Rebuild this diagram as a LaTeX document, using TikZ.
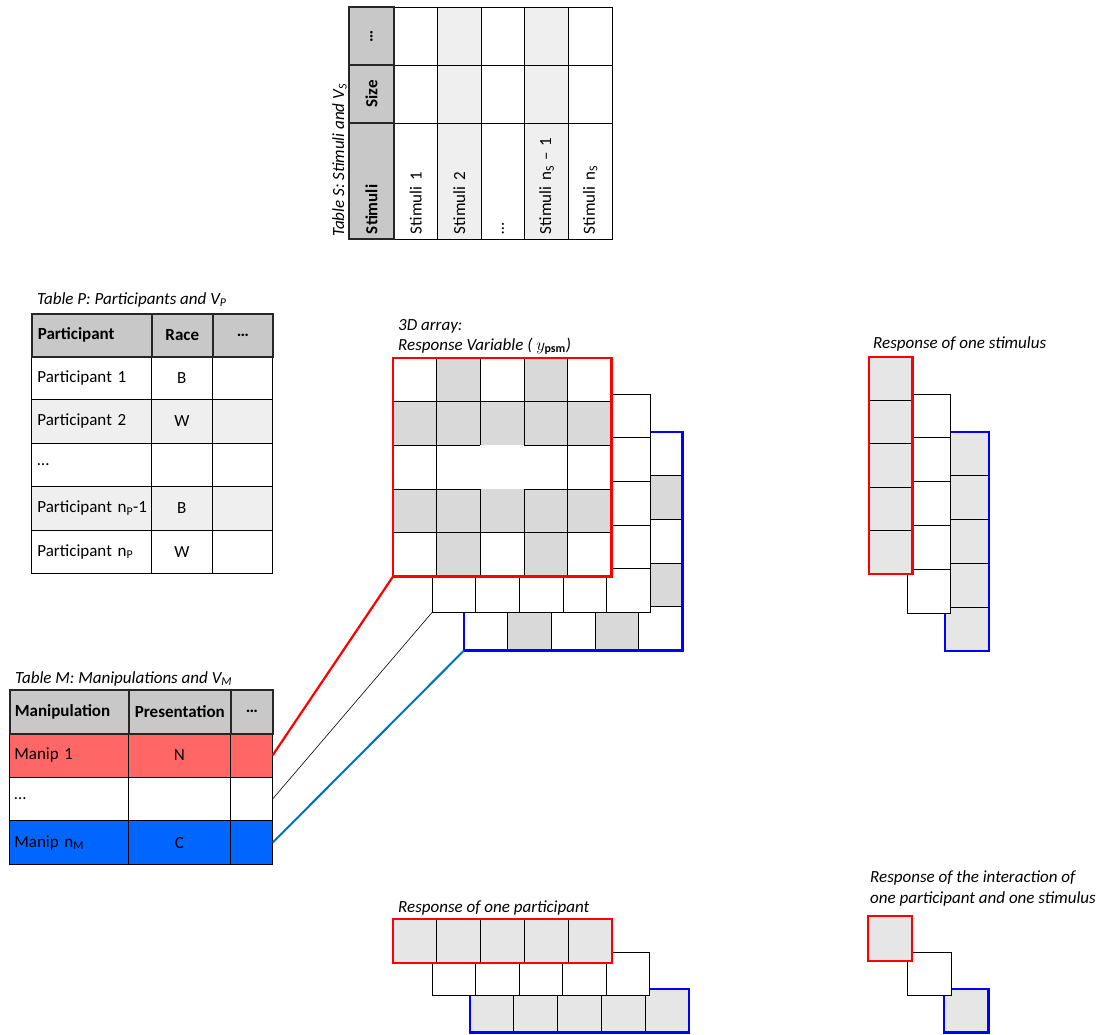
\documentclass[tikz,border=0pt]{standalone}
\usepackage{fontspec}
\setmainfont{Carlito}
\usetikzlibrary{calc}
\definecolor{headGray}{HTML}{C8C8C8}
\definecolor{rowGray}{HTML}{EFEFEF}
\definecolor{cubeGray}{HTML}{D9D9D9}
\definecolor{respGray}{HTML}{E6E6E6}
\definecolor{manipRed}{HTML}{FF6666}
\definecolor{manipBlue}{HTML}{0066FF}
\definecolor{linkBlue}{HTML}{0070C0}
\newcommand{\cellfont}{\fontsize{17}{21}\selectfont}

\begin{document}
\begin{tikzpicture}[
    x=1pt, y=-1pt,
    every node/.style={font=\cellfont},
    tcell/.style={draw=black, line width=0.7pt, inner sep=0pt},
    thead/.style={tcell, fill=headGray, draw=black!85, line width=1.6pt, font=\cellfont\bfseries},
    lcell/.style={text width=#1, align=left, inner xsep=6pt},
    ttitle/.style={font=\cellfont\itshape, inner sep=0pt, anchor=base west},
    gridline/.style={draw=black, line width=0.7pt},
    redframe/.style={draw=red, line width=2.6pt},
    blueframe/.style={draw=blue, line width=2.6pt},
  ]
  \useasboundingbox (0,0) rectangle (1108,1034);

  % Table S, turned on its side
  \node[ttitle, rotate=90] (S-title) at (344,237) {Table S: Stimuli and V\textsubscript{S}};
  \foreach \name/\tone [count=\i] in {Stimuli 1/white, Stimuli 2/rowGray, …/white,
      Stimuli n\textsubscript{S} – 1/rowGray, Stimuli n\textsubscript{S}/white}{
    \pgfmathsetmacro{\colmid}{394+(\i-0.5)*43.6}
    \node[tcell, fill=\tone, rotate=90, lcell=106pt, inner xsep=5pt, minimum height=43.6pt] (S-\i-1) at (\colmid,181) {\mbox{\name}};
    \node[tcell, fill=\tone, rotate=90, minimum width=58pt, minimum height=43.6pt] (S-\i-2) at (\colmid,94) {};
    \node[tcell, fill=\tone, rotate=90, minimum width=58pt, minimum height=43.6pt] (S-\i-3) at (\colmid,36) {};
  }
  \node[thead, rotate=90, lcell=106pt, inner xsep=5pt, minimum height=45pt] (S-0-1) at (371.5,181) {Stimuli};
  \node[thead, rotate=90, minimum width=58pt, minimum height=45pt] (S-0-2) at (371.5,94) {Size};
  \node[thead, rotate=90, minimum width=58pt, minimum height=45pt] (S-0-3) at (371.5,36) {…};

  % Table P
  \node[ttitle] (P-title) at (37,304) {Table P: Participants and V\textsubscript{P}};
  \foreach \name/\race/\tone [count=\i] in {Participant 1/B/white, Participant 2/W/rowGray, …/{}/white,
      Participant n\textsubscript{P}-1/B/rowGray, Participant n\textsubscript{P}/W/white}{
    \pgfmathsetmacro{\rowtop}{356+(\i-1)*43.4}
    \node[tcell, fill=\tone, lcell=108pt, minimum height=43.4pt, anchor=north west] (P-\i-1) at (31,\rowtop) {\mbox{\name}};
    \node[tcell, fill=\tone, minimum width=61pt, minimum height=43.4pt, anchor=north west] (P-\i-2) at (151,\rowtop) {\race};
    \node[tcell, fill=\tone, minimum width=60pt, minimum height=43.4pt, anchor=north west] (P-\i-3) at (212,\rowtop) {};
  }
  \node[thead, lcell=108pt, minimum height=43pt, anchor=north west] (P-0-1) at (31,313) {Participant};
  \node[thead, minimum width=61pt, minimum height=43pt, anchor=north west] (P-0-2) at (151,313) {Race};
  \node[thead, minimum width=60pt, minimum height=43pt, anchor=north west] (P-0-3) at (212,313) {…};

  % Table M
  \node[ttitle] (M-title) at (15,683) {Table M: Manipulations and V\textsubscript{M}};
  \foreach \name/\pres/\tone [count=\i] in {Manip 1/N/manipRed, …/{}/white, Manip n\textsubscript{M}/C/manipBlue}{
    \pgfmathsetmacro{\rowtop}{733+(\i-1)*43.7}
    \node[tcell, fill=\tone, lcell=109pt, inner xsep=5pt, minimum height=43.7pt, anchor=north west] (M-\i-1) at (9,\rowtop) {\mbox{\name}};
    \node[tcell, fill=\tone, minimum width=102pt, minimum height=43.7pt, anchor=north west] (M-\i-2) at (128,\rowtop) {\pres};
    \node[tcell, fill=\tone, minimum width=42pt, minimum height=43.7pt, anchor=north west] (M-\i-3) at (230,\rowtop) {};
  }
  \node[thead, lcell=109pt, inner xsep=5pt, minimum height=44pt, anchor=north west] (M-0-1) at (9,689) {Manipulation};
  \node[thead, minimum width=102pt, minimum height=44pt, anchor=north west] (M-0-2) at (128,689) {Presentation};
  \node[thead, minimum width=42pt, minimum height=44pt, anchor=north west] (M-0-3) at (230,689) {…};

  % 3D array: back layer
  \begin{scope}[shift={(464,432)}]
    \foreach \r in {1,...,5}{
      \foreach \c in {1,...,5}{
        \pgfmathtruncatemacro{\odd}{mod(\r+\c,2)}
        \ifnum\odd=1 \def\tone{cubeGray}\else\def\tone{white}\fi
        \draw[gridline, fill=\tone] ({(\c-1)*43.7},{(\r-1)*43.7}) rectangle ++(43.7,43.7);
      }
    }
    \draw[blueframe] (0,0) rectangle (218.5,218.5);
    \coordinate (back-sw) at (0,218.5);
  \end{scope}

  % middle layer
  \begin{scope}[shift={(432,394)}]
    \foreach \r in {1,...,5}{
      \foreach \c in {1,...,5}{
        \draw[gridline, fill=white] ({(\c-1)*43.7},{(\r-1)*43.7}) rectangle ++(43.7,43.7);
      }
    }
    \coordinate (mid-sw) at (0,218.5);
  \end{scope}

  % front layer
  \begin{scope}[shift={(393,358)}]
    \fill[white] (0,0) rectangle (218.5,218.5);
    \foreach \row [count=\r] in {{0,1,0,1,0},{1,1,1,1,1},{0,0,0,0,0},{1,1,1,1,1},{0,1,0,1,0}}{
      \foreach \g [count=\c] in \row {
        \ifnum\g=1 \fill[cubeGray] ({(\c-1)*43.7},{(\r-1)*43.7}) rectangle ++(43.7,43.7);\fi
      }
    }
    \foreach \k in {1,4}{
      \draw[gridline] (0,\k*43.7) -- (218.5,\k*43.7);
      \draw[gridline] (\k*43.7,0) -- (\k*43.7,218.5);
    }
    % the centre cell stays open
    \foreach \k in {2,3}{
      \draw[gridline] (0,\k*43.7) -- (87.4,\k*43.7) (131.1,\k*43.7) -- (218.5,\k*43.7);
      \draw[gridline] (\k*43.7,0) -- (\k*43.7,87.4) (\k*43.7,131.1) -- (\k*43.7,218.5);
    }
    \draw[redframe] (0,0) rectangle (218.5,218.5);
    \coordinate (front-sw) at (0,218.5);
  \end{scope}
  \node[ttitle] (cube-title) at (398,330) {3D array:};
  \node[ttitle] (cube-var) at (398,350) {Response Variable ( $y_{\mathbf{psm}}$)};

  % links from Table M to the layers
  \draw[red, line width=2.2pt] (M-1-3.east) -- (front-sw);
  \draw[black, line width=0.6pt] (M-2-3.east) -- (mid-sw);
  \draw[linkBlue, line width=2pt] (M-3-3.east) -- (back-sw);

  % Response of one stimulus
  \node[ttitle] (stim-title) at (873,348) {Response of one stimulus};
  \foreach \k in {0,...,4}
    \draw[gridline, fill=respGray] (945,432+\k*43.8) rectangle ++(43.8,43.8);
  \draw[blueframe] (945,432) rectangle ++(43.8,219);
  \foreach \k in {0,...,4}
    \draw[gridline, fill=white] (907,394+\k*43.8) rectangle ++(43.8,43.8);
  \foreach \k in {0,...,4}
    \draw[gridline, fill=respGray] (869,357+\k*43.4) rectangle ++(43.4,43.4);
  \draw[redframe] (869,357) rectangle ++(43.4,217);

  % Response of one participant
  \node[ttitle] (part-title) at (398,912) {Response of one participant};
  \foreach \k in {0,...,4}
    \draw[gridline, fill=respGray] (470+\k*43.8,989) rectangle ++(43.8,43.5);
  \draw[blueframe] (470,989) rectangle ++(219,43.5);
  \foreach \k in {0,...,4}
    \draw[gridline, fill=white] (432+\k*43.5,952) rectangle ++(43.5,43);
  \foreach \k in {0,...,4}
    \draw[gridline, fill=respGray] (393+\k*43.8,919) rectangle ++(43.8,44);
  \draw[redframe] (393,919) rectangle ++(219,44);

  % Response of one participant and one stimulus
  \node[ttitle] (int-title) at (870,882) {Response of the interaction of};
  \node[ttitle] (int-title-2) at (870,903) {one participant and one stimulus};
  \draw[gridline, fill=respGray] (944,989) rectangle ++(44.5,43.5);
  \draw[blueframe] (944,989) rectangle ++(44.5,43.5);
  \draw[gridline, fill=white] (907,952) rectangle ++(44,43);
  \draw[gridline, fill=respGray] (868,916) rectangle ++(44,45);
  \draw[redframe] (868,916) rectangle ++(44,45);
\end{tikzpicture}
\end{document}
